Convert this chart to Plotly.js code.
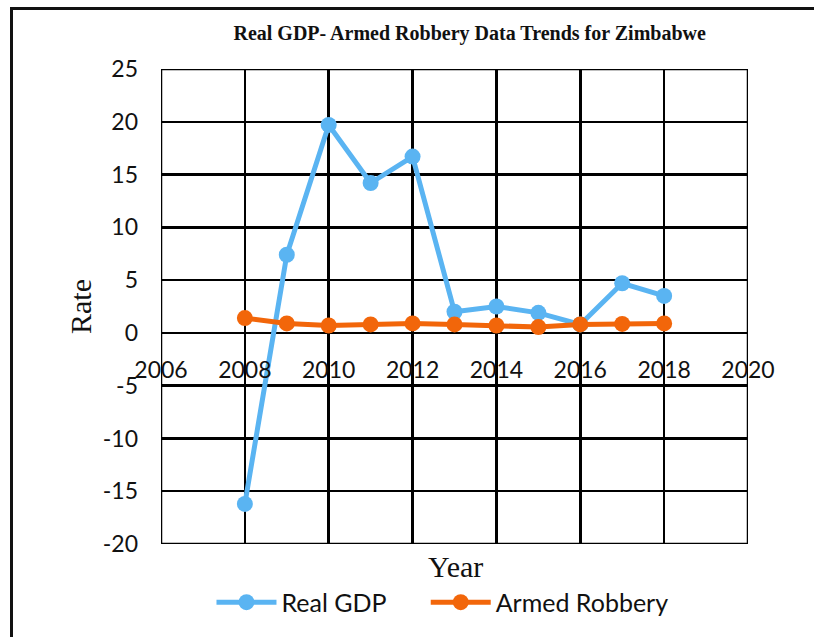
<!DOCTYPE html>
<html>
<head>
<meta charset="utf-8">
<script src="https://cdn.plot.ly/plotly-3.0.1.min.js"></script>
<style>
  html, body { margin: 0; padding: 0; background: #fff; }
  #chart { width: 814px; height: 637px; }
  #frame { position: absolute; left: 10px; top: 7px; width: 820px; height: 640px;
           border-left: 3px solid #111; border-top: 3px solid #111; pointer-events: none; }
</style>
</head>
<body>
<div id="chart"></div>
<div id="frame"></div>
<script>
const years = [2008, 2009, 2010, 2011, 2012, 2013, 2014, 2015, 2016, 2017, 2018];
const realGDP = [-16.2, 7.4, 19.7, 14.2, 16.7, 2.0, 2.5, 1.9, 0.8, 4.7, 3.5];
const armedRobbery = [1.4, 0.9, 0.7, 0.8, 0.9, 0.8, 0.7, 0.55, 0.8, 0.85, 0.9];
const xTicks = [2006, 2008, 2010, 2012, 2014, 2016, 2018, 2020];
const yTicks = [-20, -15, -10, -5, 0, 5, 10, 15, 20, 25];

const sans = 'Lato, "Open Sans", sans-serif';
const serif = '"Liberation Serif", "Times New Roman", serif';

const traces = [
  { x: years, y: realGDP, name: 'Real GDP', type: 'scatter', mode: 'lines+markers', legend: 'legend',
    line: { color: '#5AB4F2', width: 5 }, marker: { color: '#5AB4F2', size: 16 } },
  { x: years, y: armedRobbery, name: 'Armed Robbery', type: 'scatter', mode: 'lines+markers', legend: 'legend2',
    line: { color: '#F2660A', width: 5 }, marker: { color: '#F2660A', size: 16 } }
];

const legendBase = { orientation: 'h', xanchor: 'left', y: -0.123, yanchor: 'middle',
                     font: { family: sans, size: 25, color: '#111' }, itemwidth: 60,
                     bgcolor: 'rgba(0,0,0,0)' };

const layout = {
  width: 814, height: 637,
  margin: { l: 161, r: 66, t: 69, b: 90 },
  paper_bgcolor: '#fff', plot_bgcolor: '#fff',
  title: { text: '<b>Real GDP- Armed Robbery Data Trends for Zimbabwe</b>',
           font: { family: serif, size: 20, color: '#111' }, x: 0.577, xanchor: 'center', y: 0.948, yanchor: 'middle' },
  xaxis: {
    range: [2006, 2020], tickvals: xTicks, ticktext: xTicks.map(String),
    showgrid: true, gridcolor: '#000', gridwidth: 2.5, zeroline: false, showline: false,
    anchor: 'free', position: 0.40, ticks: '',
    tickfont: { family: sans, size: 23, color: '#111' }
  },
  yaxis: {
    range: [-20, 25], tickvals: yTicks, ticktext: yTicks.map(String),
    showgrid: true, gridcolor: '#000', gridwidth: 2.5, zeroline: false, showline: false,
    ticks: '', ticklabelstandoff: 22,
    tickfont: { family: sans, size: 23, color: '#111' },
    title: { text: 'Rate', font: { family: serif, size: 30, color: '#111' } }
  },
  annotations: [{ text: 'Year', xref: 'paper', yref: 'paper', x: 0.501, y: -0.048,
                  xanchor: 'center', yanchor: 'middle', showarrow: false,
                  font: { family: serif, size: 30, color: '#111' } }],
  shapes: [{ type: 'rect', xref: 'x', yref: 'y', x0: 2006, x1: 2020, y0: -20, y1: 25,
             line: { color: '#000', width: 2.5 }, layer: 'below' }],
  legend: Object.assign({}, legendBase, { x: 0.086 }),
  legend2: Object.assign({}, legendBase, { x: 0.451 }),
  showlegend: true
};

Plotly.newPlot('chart', traces, layout, { displayModeBar: false, staticPlot: true });
</script>
</body>
</html>
